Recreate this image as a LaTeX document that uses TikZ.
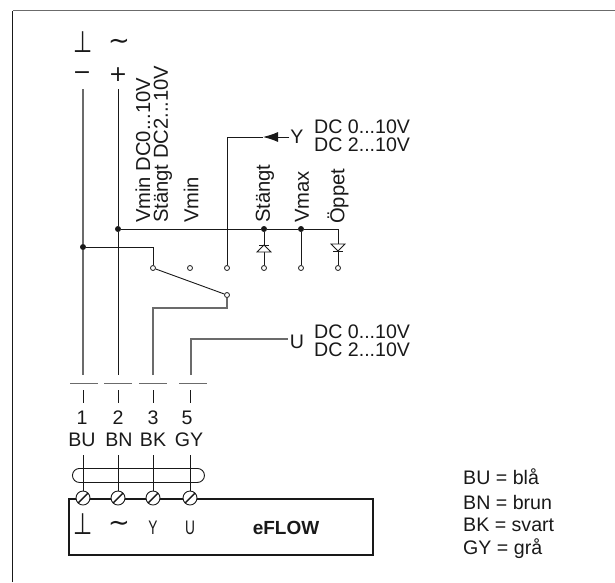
\documentclass[tikz,border=0pt]{standalone}
\usepackage{fontspec}
\setmainfont{Liberation Sans}
\newfontfamily\symfont{DejaVu Sans}
\usetikzlibrary{arrows.meta,positioning}
\definecolor{ink}{gray}{0.1}
\definecolor{wire}{gray}{0.42}
\tikzset{
    txt/.style={inner sep=0pt,text=ink,font=\fontsize{19.6}{21}\selectfont},
    vtxt/.style={txt,font=\fontsize{20.2}{21}\selectfont,rotate=90,anchor=west},
    sym/.style={inner sep=0pt,text=ink,font=\fontsize{22}{24}\symfont},
    gndsym/.style={sym,yscale=1.35},
    small/.style={txt,xscale=.7},
    open/.style={draw=ink,fill=white,circle,inner sep=0pt,minimum size=5pt,line width=.8pt},
    dot/.style={fill=ink,circle,inner sep=0pt,minimum size=6pt},
    grayline/.style={draw=wire,line width=1.3pt},
    darkline/.style={draw=ink,line width=.9pt},
    screw/.style={draw=ink,fill=white,circle,inner sep=0pt,minimum size=14pt,line width=.9pt,
        path picture={\draw[ink,line width=1.4pt] (path picture bounding box.south west) -- (path picture bounding box.north east);}}
}
\begin{document}
\begin{tikzpicture}[x=1pt,y=-1pt]
    \useasboundingbox (0,0) rectangle (615,582);
    % frame
    \coordinate (fa) at (12.5,582);
    \coordinate (fb) at (12.5,10.5);
    \coordinate (fc) at (615,10.5);
    \draw[ink,line width=1.1pt] (fa) -- (fb);
    \draw[wire,line width=1.8pt] (fb) -- (fc);

    % supply
    \node [gndsym] (gnd) at (83,42) {⊥};
    \node [sym,font=\fontsize{26}{26}\symfont] (ac) at (119,44) {∼};
    \node [sym] (minus) at (82,76) {−};
    \node [sym] (plus) at (118,75) {+};

    \coordinate (w1) at (83,89);
    \coordinate (w2) at (118,89);
    \coordinate (w1e) at (83,375);
    \coordinate (w2e) at (118,375);
    \coordinate (w3e) at (153,375);
    \coordinate (w5e) at (191,375);

    % switch positions
    \node [dot] (jn1) at (83,247) {};
    \node [dot] (jn2) at (118,229) {};
    \node [dot] (jn3) at (264,229) {};
    \node [dot] (jn4) at (301,229) {};
    \node [open] (sw1) at (153,268) {};
    \node [open] (sw2) at (190,268) {};
    \node [open] (sw3) at (227,268) {};
    \node [open] (sw4) at (264,268) {};
    \node [open] (sw5) at (301,268) {};
    \node [open] (sw6) at (338,268) {};
    \node [open] (arm) at (227,295) {};

    % rotated labels
    \node [vtxt] (la) at (143,223) {Vmin DC0...10V};
    \node [vtxt] (lb) at (163,223) {Stängt DC2...10V};
    \node [vtxt] (lc) at (191,223) {Vmin};
    \node [vtxt] (ld) at (265,223) {Stängt};
    \node [vtxt] (le) at (302,223) {Vmax};
    \node [vtxt] (lf) at (338,224) {Öppet};

    % inputs
    \node [txt] (y) at (297,137) {Y};
    \node [txt,anchor=west] (y1) at (314,127) {DC 0...10V};
    \node [txt,anchor=west] (y2) at (314,145) {DC 2...10V};
    \node [txt] (u) at (297,342) {U};
    \node [txt,anchor=west] (u1) at (314,332) {DC 0...10V};
    \node [txt,anchor=west] (u2) at (314,350) {DC 2...10V};
    \coordinate (tip) at (263,137);
    \coordinate (ue) at (288,339);

    \path[grayline]
        (w1) edge (jn1)
        (jn1) edge (w1e)
    ;
    \draw[grayline] (w5e) |- (ue);
    \draw[grayline] (w3e) |- (arm |- 0,308) -- (arm.south);
    \draw[darkline] (jn1) -| (sw1.north);
    \draw[darkline] (sw3.north) |- (tip);
    \draw[darkline,-{Latex[length=15pt,width=10pt]}] (y.west) ++(-1,0) -- (tip);
    \draw[darkline] (jn2) -- (jn3) -- (jn4) -| (sw6.north);
    \path[darkline]
        (w2) edge (jn2)
        (jn2) edge (w2e)
        (jn3) edge (sw4.north)
        (jn4) edge (sw5.north)
        (sw1) edge (arm)
    ;

    % diodes
    \draw[ink,line width=.8pt,fill=white] (264,245) -- (271,252) -- (257,252) -- cycle;
    \draw[ink,line width=1pt] (259,245) -- (269,245);
    \draw[ink,line width=.8pt,fill=white] (338,251) -- (331,244) -- (345,244) -- cycle;
    \draw[ink,line width=1pt] (333,251) -- (343,251);

    % break in the wires
    \coordinate (b1a) at (70,383);  \coordinate (b1b) at (98,383);
    \coordinate (b2a) at (104,383); \coordinate (b2b) at (132,383);
    \coordinate (b3a) at (139,383); \coordinate (b3b) at (167,383);
    \coordinate (b4a) at (179,383); \coordinate (b4b) at (207,383);
    \coordinate (k1) at (83,390);  \coordinate (k1e) at (83,403);
    \coordinate (k2) at (118,390); \coordinate (k2e) at (118,403);
    \coordinate (k3) at (153,390); \coordinate (k3e) at (153,403);
    \coordinate (k4) at (190,390); \coordinate (k4e) at (190,403);
    \path[draw=wire,line width=1pt]
        (b1a) edge (b1b)
        (b2a) edge (b2b)
        (b3a) edge (b3b)
        (b4a) edge (b4b)
    ;
    \path[draw=ink,line width=.9pt]
        (k1) edge (k1e)
        (k2) edge (k2e)
        (k3) edge (k3e)
        (k4) edge (k4e)
    ;

    % wire labels
    \node [txt] (n1) at (82,418) {1};
    \node [txt] (n2) at (118,418) {2};
    \node [txt] (n3) at (153,418) {3};
    \node [txt] (n5) at (187,418) {5};
    \node [txt] (bu) at (82,440) {BU};
    \node [txt] (bn) at (119,440) {BN};
    \node [txt] (bk) at (153,440) {BK};
    \node [txt] (gy) at (189,440) {GY};

    % device
    \node [draw=ink,line width=2.4pt,minimum width=304pt,minimum height=56pt,anchor=north west,inner sep=0pt] (box) at (68,498) {};
    \node [draw=ink,line width=.9pt,rounded corners=7pt,minimum width=132pt,minimum height=14pt,inner sep=0pt,anchor=north west] (cable) at (72,468) {};
    \coordinate (c1) at (83,455);
    \coordinate (c2) at (118,455);
    \coordinate (c3) at (153,455);
    \coordinate (c4) at (190,455);
    \node [screw] (t1) at (83,498) {};
    \node [screw] (t2) at (118,498) {};
    \node [screw] (t3) at (153,498) {};
    \node [screw] (t4) at (190,498) {};
    \path[draw=ink,line width=.9pt]
        (c1) edge (t1)
        (c2) edge (t2)
        (c3) edge (t3)
        (c4) edge (t4)
    ;
    \node [gndsym] (sa) at (83,524) {⊥};
    \node [sym,font=\fontsize{26}{26}\symfont] (sb) at (119,526) {∼};
    \node [small] (sc) at (153,528) {Y};
    \node [small] (sd) at (190,528) {U};
    \node [txt,font=\fontsize{19}{21}\selectfont\bfseries] (name) at (286,528) {eFLOW};

    % colour legend
    \node [txt,anchor=west] (key1) at (463,477) {BU = blå};
    \node [txt,anchor=west] (key2) at (463,502) {BN = brun};
    \node [txt,anchor=west] (key3) at (463,525) {BK = svart};
    \node [txt,anchor=west] (key4) at (463,549) {GY = grå};
\end{tikzpicture}
\end{document}
